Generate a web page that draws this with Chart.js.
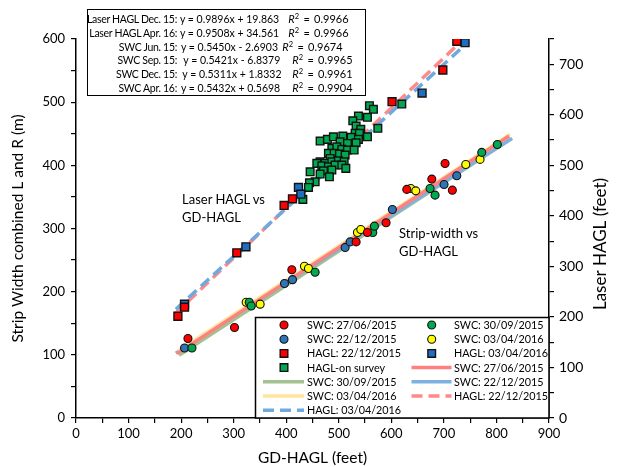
<!DOCTYPE html>
<html><head><meta charset="utf-8">
<script src="https://cdn.jsdelivr.net/npm/chart.js@4.4.0/dist/chart.umd.min.js"></script>
<style>
html,body{margin:0;padding:0;background:#fff;}
#wrap{position:relative;width:618px;height:467px;overflow:hidden;}
canvas{position:absolute;left:0;top:0;}
.box{position:absolute;left:87px;top:9px;width:279px;height:87px;border:1.5px solid #000;background:#fff;box-sizing:border-box;}
.t{position:absolute;white-space:nowrap;font-family:Lato,sans-serif;font-size:10.5px;line-height:12px;color:#000;}
.t.lab{letter-spacing:-0.3px;}
.t.r2{font-size:11px;word-spacing:1.5px;}
.t sup{font-size:7.5px;line-height:0;vertical-align:4px;}
.note{position:absolute;white-space:nowrap;font-family:Lato,sans-serif;font-size:13px;line-height:18px;color:#000;}
</style></head>
<body><div id="wrap"><canvas id="c" width="618" height="467"></canvas></div>
<script>
// ---------- data ----------
const swcJunX = [213, 301.6, 410.7, 533, 554.5, 590, 629.4, 677, 702.2, 716.1];
const swcJunY = [125.8, 143.2, 234.8, 278.8, 293.7, 309, 361.9, 378.2, 403, 360.7];
const swcSepX = [220.6, 329.6, 333.4, 455, 564.7, 567.8, 673.7, 683.2, 772, 801.7];
const swcSepY = [110.9, 183.3, 177.4, 230.8, 293.7, 303.7, 363.4, 352.8, 420.5, 433.1];
const swcDecX = [206.5, 396.7, 411.9, 512.1, 521.6, 602, 700.3, 724.5];
const swcDecY = [110.9, 212.9, 219, 270, 278.8, 330, 369.7, 383.4];
const swcAprX = [323.8, 350.4, 434.7, 442.3, 535.5, 541.9, 637, 646.5, 741.6, 768.8];
const swcAprY = [183.3, 180.2, 240.3, 236.7, 293.7, 298.5, 363.4, 359.6, 401.4, 409.4];
const haglDecX = [193.9, 206.5, 306, 396, 411.9, 601.4, 698, 724.6];
const haglDecY = [201.4, 219.3, 326.8, 420.7, 433.7, 625.9, 688.7, 745.6];
const haglAprX = [206.5, 323.3, 423.3, 427.8, 658.5, 740.3];
const haglAprY = [225.2, 338.7, 456.3, 443, 643, 742.7];
const surveyX = [558.3, 565.9, 619.9, 537.4, 554.5, 526.7, 533, 541.9, 574.3, 531.1, 539.3, 554.5, 464.5, 478.4, 489.8, 507.7, 523.5, 537.4, 502.6, 516.5, 533, 486.8, 496.3, 505.8, 516.5, 529.2, 480.3, 491.2, 501.3, 512.1, 483.6, 464.5, 474, 486.8, 499.3, 510.2, 458.2, 467.8, 480.3, 493, 505.8, 513.4, 486.8, 470.8, 445.5, 464.5, 482.2, 455, 444.2, 442.3, 431.6];
const surveyY = [618, 610.8, 621.3, 597.5, 595, 588.2, 577.7, 571.2, 573.2, 563.3, 563.3, 556.5, 548, 551.4, 556.5, 557.9, 555.3, 551.4, 546.6, 543.4, 544.7, 533.6, 536.7, 531.6, 530.2, 530.2, 523.7, 523.7, 522.3, 520.3, 513.7, 507, 503.9, 507, 509, 507, 503.9, 499.1, 497.1, 500.5, 500.5, 494, 490.6, 489.2, 487.2, 482.7, 477.3, 467.4, 465.4, 456.3, 432.6];

// trend lines (from the equations printed on the chart)
const fitNames = ['SWC: 27/06/2015', 'SWC: 30/09/2015', 'SWC: 22/12/2015', 'SWC: 03/04/2016', 'HAGL: 22/12/2015', 'HAGL: 03/04/2016'];
const fitSlopes = [0.5450, 0.5421, 0.5311, 0.5432, 0.9896, 0.9508];
const fitIntercepts = [-2.6903, -6.8379, 1.8332, 0.5698, 19.863, 34.561];
const fitFromX = [192, 196, 190, 194, 190, 190];
const fitToX = [824, 828, 830, 826, 740, 740];

const eqLabels = ['Laser HAGL Dec. 15:', 'Laser HAGL Apr. 16:', 'SWC Jun. 15:', 'SWC Sep. 15:', 'SWC Dec. 15:', 'SWC Apr. 16:'];
const eqTexts = ['y = 0.9896x + 19.863', 'y = 0.9508x + 34.561', 'y = 0.5450x - 2.6903', 'y = 0.5421x - 6.8379', 'y = 0.5311x + 1.8332', 'y = 0.5432x + 0.5698'];
const eqR2 = ['0.9966', '0.9966', '0.9674', '0.9965', '0.9961', '0.9904'];

const xTicksMax = 900, leftMax = 600, rightMax = 750;

// ---------- build ----------
const pts = (xs, ys) => xs.map((x, i) => ({x, y: ys[i]}));
const fitLine = i => [fitFromX[i], fitToX[i]].map(x => ({x, y: fitSlopes[i] * x + fitIntercepts[i]}));

function circle(label, xs, ys, color) {
  return {label, data: pts(xs, ys), yAxisID: 'y', pointStyle: 'circle', pointRadius: 4, pointBorderWidth: 1.1,
    pointBackgroundColor: color, pointBorderColor: '#111', backgroundColor: color, borderColor: '#111', showLine: false, order: 0};
}
function square(label, xs, ys, color, r) {
  return {label, data: pts(xs, ys), yAxisID: 'y2', pointStyle: 'rect', pointRadius: r, pointBorderWidth: 1.4,
    pointBackgroundColor: color, pointBorderColor: '#111', backgroundColor: color, borderColor: '#111', showLine: false, order: 0};
}
function line(i, color, axis, dash, order) {
  return {label: fitNames[i], data: fitLine(i), yAxisID: axis, showLine: true, pointRadius: 0, borderColor: color,
    backgroundColor: color, borderWidth: 3.5, borderDash: dash, fill: false, order};
}

const datasets = [
  circle('SWC: 27/06/2015', swcJunX, swcJunY, '#FF0000'),
  circle('SWC: 30/09/2015', swcSepX, swcSepY, '#00A850'),
  circle('SWC: 22/12/2015', swcDecX, swcDecY, '#2E75B6'),
  circle('SWC: 03/04/2016', swcAprX, swcAprY, '#FFFF00'),
  square('HAGL: 22/12/2015', haglDecX, haglDecY, '#FF0000', 5.6),
  square('HAGL: 03/04/2016', haglAprX, haglAprY, '#1F6FC0', 5.6),
  square('HAGL-on survey', surveyX, surveyY, '#00A850', 5.4),
  line(0, '#FF8080', 'y', [], 2),
  line(1, '#A4C290', 'y', [], 5),
  line(2, '#7DB1E0', 'y', [], 4),
  line(3, '#FFE49C', 'y', [], 3),
  line(4, '#FF8A8A', 'y2', [11, 6], 7),
  line(5, '#6FAADE', 'y2', [11, 6], 6)
];

const FONT = 'Lato, sans-serif';

const legendPlugin = {
  id: 'boxLegend',
  afterDatasetsDraw(chart) {
    const ctx = chart.ctx;
    ctx.save();
    const L = 255.5, T = 317.5, R = 549, B = 418;
    ctx.fillStyle = '#fff';
    ctx.fillRect(L, T, R - L, B - T);
    ctx.strokeStyle = '#000';
    ctx.lineWidth = 1.5;
    ctx.strokeRect(L, T, R - L, B - T);
    ctx.font = '10.8px ' + FONT;
    ctx.textBaseline = 'middle';
    ctx.textAlign = 'left';
    chart.data.datasets.forEach((ds, i) => {
      const row = Math.floor(i / 2), col = i % 2;
      const cy = 325 + row * 14.2;
      const mx = col ? 431.7 : 284;
      const lx0 = col ? 411.5 : 263, lx1 = col ? 451.5 : 304;
      const tx = col ? 454 : 307;
      if (ds.showLine) {
        ctx.save();
        ctx.strokeStyle = ds.borderColor;
        ctx.lineWidth = ds.borderWidth;
        ctx.setLineDash(ds.borderDash || []);
        ctx.beginPath(); ctx.moveTo(lx0, cy); ctx.lineTo(lx1, cy); ctx.stroke();
        ctx.restore();
      } else {
        ctx.save();
        ctx.fillStyle = ds.pointBackgroundColor;
        ctx.strokeStyle = ds.pointBorderColor;
        ctx.lineWidth = ds.pointBorderWidth;
        Chart.helpers.drawPoint(ctx, {pointStyle: ds.pointStyle, radius: ds.pointStyle === 'rect' ? 5.4 : 4, rotation: 0, borderWidth: ds.pointBorderWidth}, mx, cy);
        ctx.restore();
      }
      ctx.fillStyle = '#000';
      ctx.fillText(ds.label, tx, cy + 0.5);
    });
    // right axis title
    ctx.save();
    ctx.translate(601, 244);
    ctx.rotate(-Math.PI / 2);
    ctx.font = '17px ' + FONT;
    ctx.textAlign = 'center';
    ctx.textBaseline = 'middle';
    ctx.fillStyle = '#000';
    ctx.fillText('Laser HAGL (feet)', 0, 0);
    ctx.restore();
    ctx.restore();
  }
};

const tickCb = v => (v % 100 === 0 ? String(v) : '');
const gridOpt = {display: true, drawOnChartArea: false, drawTicks: true, tickLength: 5, color: '#000', lineWidth: 1.2};
const borderOpt = {display: true, color: '#000', width: 1.5};

new Chart(document.getElementById('c'), {
  type: 'scatter',
  data: {datasets},
  options: {
    responsive: false, animation: false, devicePixelRatio: 1, events: [],
    layout: {padding: {top: 39, left: 0, right: 0, bottom: 0}},
    plugins: {legend: {display: false}, tooltip: {enabled: false}},
    scales: {
      x: {type: 'linear', position: 'bottom', min: 0, max: xTicksMax,
        ticks: {stepSize: 50, autoSkip: false, maxRotation: 0, callback: tickCb, color: '#000', font: {family: FONT, size: 13}, padding: 3},
        grid: gridOpt, border: borderOpt,
        title: {display: true, text: 'GD-HAGL (feet)', color: '#000', font: {family: FONT, size: 15.5}, padding: {top: 0, bottom: 0}},
        afterFit: s => { s.height = 49; }},
      y: {type: 'linear', position: 'left', min: 0, max: leftMax,
        ticks: {stepSize: 50, autoSkip: false, callback: tickCb, color: '#000', font: {family: FONT, size: 13}, padding: 6},
        grid: gridOpt, border: borderOpt,
        title: {display: true, text: 'Strip Width combined L and R (m)', color: '#000', font: {family: FONT, size: 15.5}, padding: {top: 9, bottom: 0}},
        afterFit: s => { s.width = 76; }},
      y2: {type: 'linear', position: 'right', min: 0, max: rightMax,
        ticks: {stepSize: 50, autoSkip: false, callback: tickCb, color: '#000', font: {family: FONT, size: 14}, padding: 5},
        grid: gridOpt, border: borderOpt,
        afterFit: s => { s.width = 69; }}
    }
  },
  plugins: [legendPlugin]
});

// ---------- text boxes ----------
const wrap = document.getElementById('wrap');
const box = document.createElement('div');
box.className = 'box';
wrap.appendChild(box);
const eqCenters = [19, 33, 46.5, 60, 74, 87.5];
const eqX = [180, 180, 181, 183.3, 182.3, 181];
const r2X = [288.3, 288.3, 282.3, 292.3, 292.3, 292.3];
eqLabels.forEach((lab, i) => {
  const top = eqCenters[i] - 6;
  const a = document.createElement('div');
  a.className = 't lab'; a.style.right = (618 - 177) + 'px'; a.style.top = top + 'px'; a.textContent = lab;
  const b = document.createElement('div');
  b.className = 't eqn'; b.style.left = eqX[i] + 'px'; b.style.top = top + 'px'; b.textContent = eqTexts[i];
  const c = document.createElement('div');
  c.className = 't r2'; c.style.left = r2X[i] + 'px'; c.style.top = top + 'px';
  c.innerHTML = '<i>R</i><sup>2</sup> = ' + eqR2[i];
  wrap.appendChild(a); wrap.appendChild(b); wrap.appendChild(c);
});
function note(lines, left, top) {
  const d = document.createElement('div');
  d.className = 'note'; d.style.left = left + 'px'; d.style.top = top + 'px';
  d.innerHTML = lines.join('<br>');
  wrap.appendChild(d);
}
note(['Laser HAGL vs', 'GD-HAGL'], 182, 190);
note(['Strip-width vs', 'GD-HAGL'], 399, 224);
</script>
</body></html>
